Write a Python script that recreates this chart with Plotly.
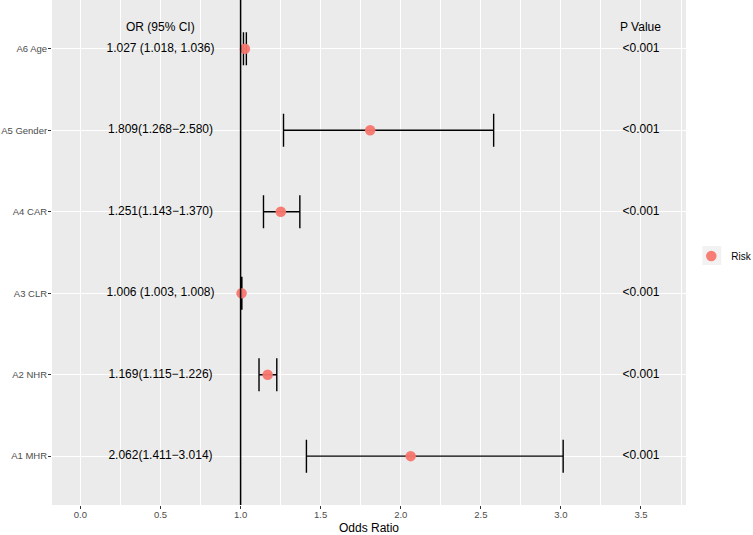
import plotly.graph_objects as go

# ---- data ----
labels = ["A1 MHR", "A2 NHR", "A3 CLR", "A4 CAR", "A5 Gender", "A6 Age"]
or_vals = [2.062, 1.169, 1.006, 1.251, 1.809, 1.027]
ci_low = [1.411, 1.115, 1.003, 1.143, 1.268, 1.018]
ci_high = [3.014, 1.226, 1.008, 1.370, 2.580, 1.036]
ci_text = ["2.062(1.411\u22123.014)", "1.169(1.115\u22121.226)", "1.006 (1.003, 1.008)",
           "1.251(1.143\u22121.370)", "1.809(1.268\u22122.580)", "1.027 (1.018, 1.036)"]
p_text = ["<0.001", "<0.001", "<0.001", "<0.001", "<0.001", "<0.001"]
header_ci = "OR (95% CI)"
header_p = "P Value"
text_x_ci = 0.5
text_x_p = 3.5
ref_line = 1.0
series_name = "Risk"
x_title = "Odds Ratio"

FONT = "Liberation Sans, Arial, sans-serif"
W, H = 753, 535
L, R, T, B = 52.3, 67.3, 0, 30
pw = W - L - R
ph = H - T - B

def px_to_paper_x(px):
    return (px - L) / pw

def px_to_paper_y(py):
    return 1 - (py - T) / ph

fig = go.Figure()

# error bars
fig.add_trace(go.Scatter(
    x=or_vals, y=labels, mode="markers",
    marker=dict(size=1, color="rgba(0,0,0,0)"),
    error_x=dict(type="data", symmetric=False,
                 array=[h - o for h, o in zip(ci_high, or_vals)],
                 arrayminus=[o - l for o, l in zip(or_vals, ci_low)],
                 color="black", thickness=1.4, width=16.5),
    showlegend=False, hoverinfo="skip"))

# points
fig.add_trace(go.Scatter(
    x=or_vals, y=labels, mode="markers", name=series_name,
    marker=dict(size=10.5, color="#F8766D", opacity=0.95, line=dict(width=0)),
    showlegend=True))

# CI text
fig.add_trace(go.Scatter(
    x=[text_x_ci] * len(labels), y=labels, mode="text", text=ci_text,
    textfont=dict(family=FONT, size=12, color="black"),
    textposition="middle center", showlegend=False, hoverinfo="skip"))

# P value text
fig.add_trace(go.Scatter(
    x=[text_x_p] * len(labels), y=labels, mode="text", text=p_text,
    textfont=dict(family=FONT, size=12, color="black"),
    textposition="middle center", showlegend=False, hoverinfo="skip"))

header_y = len(labels) - 1 + 0.27
annotations = [
    dict(x=text_x_ci, y=header_y, xref="x", yref="y", text=header_ci, showarrow=False,
         font=dict(family=FONT, size=12, color="black"), xanchor="center", yanchor="middle"),
    dict(x=text_x_p, y=header_y, xref="x", yref="y", text=header_p, showarrow=False,
         font=dict(family=FONT, size=12, color="black"), xanchor="center", yanchor="middle"),
]

shapes = [
    dict(type="line", xref="x", yref="paper", x0=ref_line, x1=ref_line, y0=0, y1=1,
         line=dict(color="black", width=1.5), layer="above"),
    dict(type="rect", xref="paper", yref="paper",
         x0=px_to_paper_x(702), x1=px_to_paper_x(721),
         y0=px_to_paper_y(265), y1=px_to_paper_y(246),
         fillcolor="#F2F2F2", line=dict(width=0), layer="below"),
]

fig.update_layout(
    width=W, height=H,
    margin=dict(l=L, r=R, t=T, b=B, autoexpand=False),
    paper_bgcolor="white", plot_bgcolor="#EBEBEB",
    font=dict(family=FONT, size=12, color="black"),
    annotations=annotations, shapes=shapes,
    legend=dict(x=px_to_paper_x(691), y=px_to_paper_y(256), xanchor="left", yanchor="middle",
                bgcolor="rgba(0,0,0,0)", font=dict(family=FONT, size=10, color="black"),
                itemwidth=30),
)

fig.update_xaxes(
    range=[-0.1775, 3.781], tickmode="array",
    tickvals=[0, 0.5, 1, 1.5, 2, 2.5, 3, 3.5],
    ticktext=["0.0", "0.5", "1.0", "1.5", "2.0", "2.5", "3.0", "3.5"],
    showgrid=True, gridcolor="white", gridwidth=1.1,
    minor=dict(tickmode="linear", tick0=0.25, dtick=0.5, showgrid=True, gridcolor="white", gridwidth=0.5, ticklen=0),
    zeroline=False, showline=False,
    ticks="outside", ticklen=3, tickcolor="#333333", tickwidth=1,
    tickfont=dict(family=FONT, size=9.5, color="#4D4D4D"),
    ticklabelstandoff=-2,
    title=dict(text=x_title, font=dict(family=FONT, size=12, color="black"), standoff=4),
    automargin=False,
)

fig.update_yaxes(
    type="category", categoryorder="array", categoryarray=labels,
    range=[-0.6, len(labels) - 0.4],
    showgrid=True, gridcolor="white", gridwidth=1.1,
    zeroline=False, showline=False,
    ticks="outside", ticklen=3, tickcolor="#333333", tickwidth=1,
    tickfont=dict(family=FONT, size=9.5, color="#4D4D4D"),
    ticklabelstandoff=-1,
    automargin=False,
)

fig.write_html("out.html", config={"displayModeBar": False},
               post_script="document.body.style.margin='0';document.body.style.overflow='hidden';")
